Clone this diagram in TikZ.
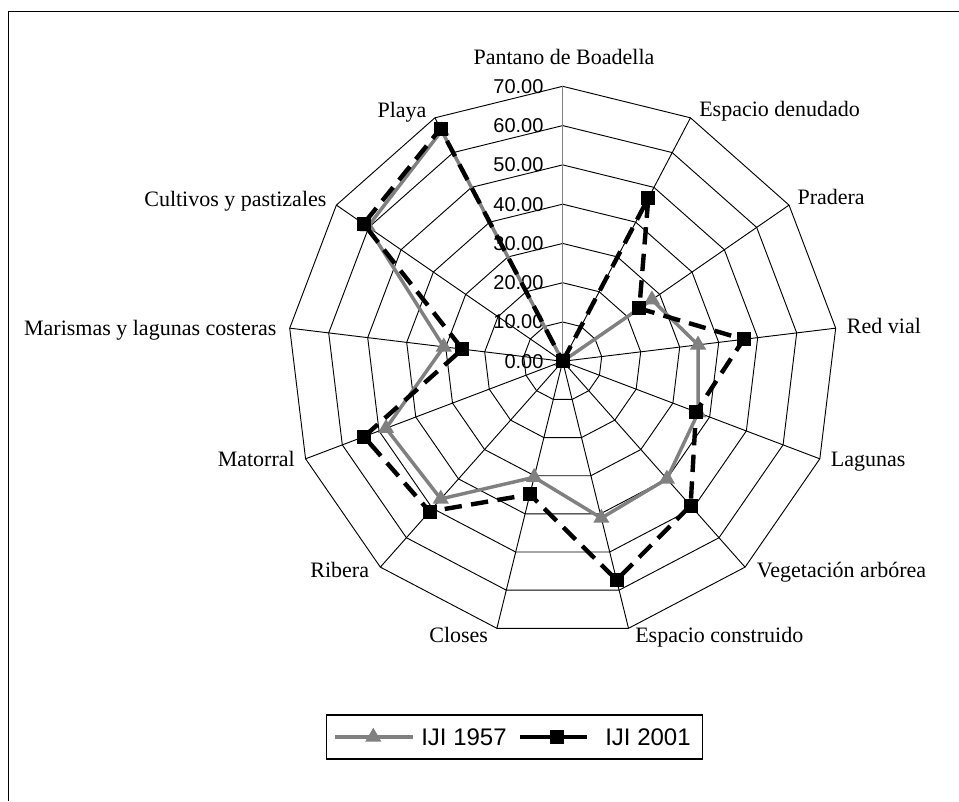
\documentclass[tikz,border=0pt]{standalone}
\usepackage{fontspec}
\setmainfont{Liberation Serif}
\setsansfont{Liberation Sans}
\usetikzlibrary{shapes.geometric}
\definecolor{midgray}{RGB}{128,128,128}

\tikzset{
  gridline/.style={black,line width=0.7pt},
  serie57/.style={midgray,line width=2.6pt,line join=round},
  serie01/.style={black,line width=3.3pt,dash pattern=on 13pt off 7pt},
  mark57/.style={regular polygon,regular polygon sides=3,fill=midgray,inner sep=0pt,minimum size=14pt},
  mark01/.style={rectangle,fill=black,inner sep=0pt,minimum size=10.5pt},
  catlabel/.style={font=\fontsize{16.5}{18}\selectfont,inner sep=0pt},
  vallabel/.style={font=\sffamily\fontsize{15}{17}\selectfont,inner sep=0pt,anchor=east},
  legtext/.style={font=\sffamily\fontsize{18}{20}\selectfont,inner sep=0pt,anchor=west},
}

\begin{document}
\begin{tikzpicture}[x=0.75pt,y=0.75pt]
  \useasboundingbox (-562.7,-439.7) rectangle (396.3,361.3);
  % frame, only left and top edges
  \draw[line width=1.2pt] (-554.2,-439.7) -- (-554.2,349.8) -- (396.3,349.8);

  % spokes and rings
  \foreach \k in {0,...,12}
    \coordinate (v\k) at ({90-\k*360/13}:275);
  \foreach \r in {1,...,7}
    \draw[gridline] (90:{\r*275/7}) \foreach \k in {1,...,12}{ -- ({90-\k*360/13}:{\r*275/7})} -- cycle;
  \coordinate (o) at (0,0);
  \foreach \k in {1,...,12}
    \draw[gridline] (o) -- (v\k);
  \draw[midgray,line width=0.9pt] (o) -- (v0);

  % value axis
  \foreach \v/\t in {0/0.00,1/10.00,2/20.00,3/30.00,4/40.00,5/50.00,6/60.00,7/70.00}
    \node[vallabel] (val\v) at (-19,{\v*275/7}) {\t};

  % data
  \foreach \k/\p/\q in {0/0/0,1/0/46.9,2/27.6/23.7,3/34.7/46.4,4/36.9/36.3,5/40.0/49.1,
      6/41.1/57.3,7/30.4/34.9,8/46.8/51.1,9/48.1/54.1,10/30.5/25.7,11/60.3/61.6,12/66.3/66.9}{
    \coordinate (a\k) at ({90-\k*360/13}:{\p/70*275});
    \coordinate (b\k) at ({90-\k*360/13}:{\q/70*275});
  }
  \draw[serie57] (a0) \foreach \k in {1,...,12}{ -- (a\k)} -- cycle;
  \foreach \k in {0,...,12}
    \node[mark57] (tri\k) at (a\k) {};
  \draw[serie01] (b0) \foreach \k in {1,...,12}{ -- (b\k)} -- cycle;
  \foreach \k in {0,...,12}
    \node[mark01] (sq\k) at (b\k) {};

  % category labels
  \node[catlabel,anchor=base] (lab0) at (1.3,297.3) {Pantano de Boadella};
  \node[catlabel,anchor=base west] (lab1) at (136.3,245) {Espacio denudado};
  \node[catlabel,anchor=base west] (lab2) at (234.6,156.5) {Pradera};
  \node[catlabel,anchor=base west] (lab3) at (284,28) {Red vial};
  \node[catlabel,anchor=base west] (lab4) at (268,-105.5) {Lagunas};
  \node[catlabel,anchor=base west] (lab5) at (194,-215.7) {Vegetación arbórea};
  \node[catlabel,anchor=base west] (lab6) at (72.3,-280.7) {Espacio construido};
  \node[catlabel,anchor=base east] (lab7) at (-74.4,-280.7) {Closes};
  \node[catlabel,anchor=base east] (lab8) at (-193.4,-215.7) {Ribera};
  \node[catlabel,anchor=base east] (lab9) at (-267.7,-105.5) {Matorral};
  \node[catlabel,anchor=base east] (lab10) at (-286,26) {Marismas y lagunas costeras};
  \node[catlabel,anchor=base east] (lab11) at (-236,155.3) {Cultivos y pastizales};
  \node[catlabel,anchor=base east] (lab12) at (-136,244.3) {Playa};

  % legend
  \node[draw,line width=0.8pt,inner sep=0pt,minimum width=281.7pt,minimum height=33pt] (legend) at (-48.2,-375.7) {};
  \draw[midgray,line width=2.6pt] (-227.7,-375.7) -- (-149.4,-375.7);
  \node[mark57] (legtri) at (-189.4,-375.7) {};
  \node[legtext] (leg57) at (-141.7,-375.7) {IJI 1957};
  \draw[black,line width=3.3pt] (-42.7,-375.7) -- (24,-375.7);
  \node[mark01] (legsq) at (-6,-375.7) {};
  \node[legtext] (leg01) at (42.3,-375.7) {IJI 2001};
\end{tikzpicture}
\end{document}
